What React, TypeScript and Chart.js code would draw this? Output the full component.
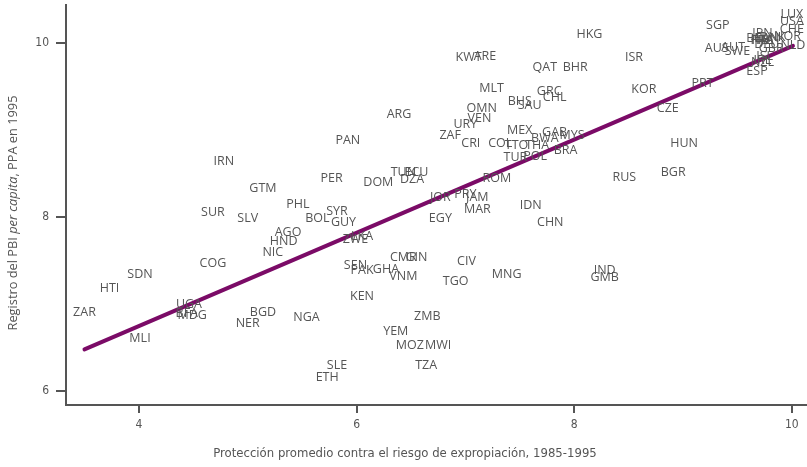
import React, { useEffect, useRef } from "react";
import { Chart, registerables } from "chart.js";

Chart.register(...registerables);

const codes = [
  "ZAR","HTI","SDN","MLI","UGA","BFA","MDG","SUR","SLV","COG","AGO","HND","NIC","BGD","NER","NGA","PHL","IRN","GTM",
  "PER","DOM","PAN","ARG","TUN","DZA","ECU","KWT","ARE","MLT","OMN","URY","VEN","ZAF","CRI","COL","TTO","THA","MEX",
  "BHS","SAU","TUR","POL","ROM","QAT","BHR","GRC","CHL","GAB","MYS","BWA","BRA","HKG","ISR","KOR","CZE","HUN","BGR",
  "RUS","PRT","SGP","AUS","AUT","SWE","ESP","JPN","DNK","BEL","FIN","FRA","ITA","CAN","DEU","GBR","ISL","IRL","NZL",
  "NOR","LUX","USA","CHE","NLD","IND","GMB","IDN","CHN","JOR","PRY","JAM","MAR","EGY","SYR","BOL","GUY","ZWE","LKA",
  "CMR","GIN","SEN","PAK","GHA","VNM","CIV","TGO","MNG","KEN","ZMB","YEM","MOZ","MWI","TZA","SLE","ETH"
];
const protection = [
  3.50,3.73,4.01,4.01,4.46,4.44,4.49,4.68,5.00,4.68,5.37,5.33,5.23,5.14,5.00,5.54,5.46,4.78,5.14,
  5.77,6.20,5.92,6.39,6.43,6.51,6.55,7.03,7.18,7.24,7.15,7.00,7.13,6.86,7.05,7.32,7.47,7.66,7.50,
  7.50,7.59,7.46,7.64,7.29,7.73,8.01,7.77,7.82,7.82,7.98,7.73,7.92,8.14,8.55,8.64,8.86,9.01,8.91,
  8.46,9.18,9.32,9.31,9.46,9.50,9.68,9.73,9.82,9.68,9.71,9.73,9.75,9.77,9.77,9.81,9.75,9.73,9.73,
  9.96,10.00,10.00,10.00,10.01,8.28,8.28,7.60,7.78,6.77,7.00,7.11,7.11,6.77,5.82,5.64,5.88,5.99,6.05,
  6.43,6.55,5.99,6.05,6.27,6.43,7.01,6.91,7.38,6.05,6.65,6.36,6.49,6.75,6.64,5.82,5.73
];
const logGdp = [
  6.91,7.18,7.34,6.60,7.00,6.89,6.87,8.05,7.99,7.47,7.82,7.72,7.60,6.91,6.78,6.85,8.15,8.64,8.33,
  8.45,8.40,8.88,9.18,8.52,8.43,8.52,9.84,9.85,9.48,9.25,9.07,9.13,8.94,8.85,8.85,8.83,8.83,9.00,
  9.33,9.28,8.69,8.70,8.44,9.72,9.72,9.45,9.38,8.97,8.94,8.91,8.77,10.10,9.84,9.47,9.25,8.85,8.51,
  8.46,9.54,10.20,9.94,9.95,9.91,9.68,10.11,10.07,10.06,10.03,10.03,10.03,10.06,9.99,9.94,9.85,9.80,9.78,
  10.08,10.33,10.25,10.16,9.97,7.39,7.31,8.13,7.94,8.23,8.26,8.23,8.09,7.99,8.07,7.98,7.94,7.74,7.78,
  7.54,7.54,7.45,7.39,7.40,7.32,7.49,7.26,7.34,7.09,6.86,6.69,6.52,6.52,6.30,6.30,6.16
];
const fitX = [3.5, 10.01];
const fitY = [6.48, 9.97];
const xTicks = [4, 6, 8, 10];
const yTicks = [6, 8, 10];

const AXIS = "#555555";
const TEXT = "#555555";
const CONDENSED = "'Liberation Sans Narrow', 'DejaVu Sans Condensed', sans-serif";
const SANS = "'Open Sans', 'Noto Sans', sans-serif";

const labelPlugin = {
  id: "pointLabels",
  afterDatasetsDraw(chart: any) {
    const ctx = chart.ctx;
    const meta = chart.getDatasetMeta(1);
    ctx.save();
    ctx.font = `12.5px ${SANS}`;
    ctx.fillStyle = TEXT;
    ctx.textAlign = "center";
    ctx.textBaseline = "middle";
    meta.data.forEach((el: any, i: number) => {
      ctx.fillText(codes[i], el.x, el.y);
    });
    ctx.restore();
  },
};

const titlePlugin = {
  id: "axisTitles",
  afterDraw(chart: any) {
    const ctx = chart.ctx;
    ctx.save();
    ctx.fillStyle = TEXT;
    ctx.textBaseline = "middle";
    ctx.textAlign = "center";
    ctx.font = `13px ${CONDENSED}`;
    ctx.fillText(
      "Protección promedio contra el riesgo de expropiación, 1985-1995",
      405,
      454
    );
    const parts = [
      { t: "Registro del PBI ", f: `12.8px ${SANS}` },
      { t: "per capita", f: `italic 12.8px ${SANS}` },
      { t: ", PPA en 1995", f: `12.8px ${SANS}` },
    ];
    let total = 0;
    parts.forEach((p) => {
      ctx.font = p.f;
      total += ctx.measureText(p.t).width;
    });
    ctx.translate(13, 213);
    ctx.rotate(-Math.PI / 2);
    ctx.textAlign = "left";
    let x = -total / 2;
    parts.forEach((p) => {
      ctx.font = p.f;
      ctx.fillText(p.t, x, 0);
      x += ctx.measureText(p.t).width;
    });
    ctx.restore();
  },
};

export default function App() {
  const ref = useRef<HTMLCanvasElement | null>(null);
  useEffect(() => {
    if (!ref.current) return;
    const points = codes.map((_, i) => ({ x: protection[i], y: logGdp[i] }));
    const fit = fitX.map((x, i) => ({ x, y: fitY[i] }));
    const chart = new Chart(ref.current, {
      type: "scatter",
      data: {
        datasets: [
          {
            type: "line",
            data: fit,
            borderColor: "#7b0b67",
            borderWidth: 4,
            pointRadius: 0,
            fill: false,
            borderCapStyle: "round",
          } as any,
          {
            data: points,
            pointRadius: 0,
            pointHoverRadius: 0,
          },
        ],
      },
      options: {
        animation: false,
        responsive: false,
        maintainAspectRatio: false,
        layout: { padding: { top: 5, right: 1, left: 0, bottom: 0 } },
        plugins: { legend: { display: false }, tooltip: { enabled: false } },
        scales: {
          x: {
            type: "linear",
            min: 3.33,
            max: 10.13,
            afterBuildTicks: (s: any) => {
              s.ticks = xTicks.map((v) => ({ value: v }));
            },
            afterFit: (s: any) => {
              s.height = 62;
            },
            grid: { display: true, drawOnChartArea: false, drawTicks: true, tickLength: 8, color: AXIS, lineWidth: 2 },
            border: { display: true, color: AXIS, width: 2 },
            ticks: { color: TEXT, padding: 5, font: { family: CONDENSED, size: 12 } },
          },
          y: {
            type: "linear",
            min: 5.84,
            max: 10.44,
            afterBuildTicks: (s: any) => {
              s.ticks = yTicks.map((v) => ({ value: v }));
            },
            afterFit: (s: any) => {
              s.width = 66;
              s.paddingTop = 0;
              s.paddingBottom = 0;
            },
            grid: { display: true, drawOnChartArea: false, drawTicks: true, tickLength: 10, color: AXIS, lineWidth: 2 },
            border: { display: true, color: AXIS, width: 2 },
            ticks: { color: TEXT, padding: 7, font: { family: CONDENSED, size: 12 } },
          },
        },
      },
      plugins: [labelPlugin, titlePlugin],
    });
    return () => chart.destroy();
  }, []);
  return (
    <div style={{ position: "fixed", left: 0, top: 0, width: 807, height: 467, background: "#fff" }}>
      <canvas ref={ref} width={807} height={467} style={{ width: 807, height: 467 }} />
    </div>
  );
}
